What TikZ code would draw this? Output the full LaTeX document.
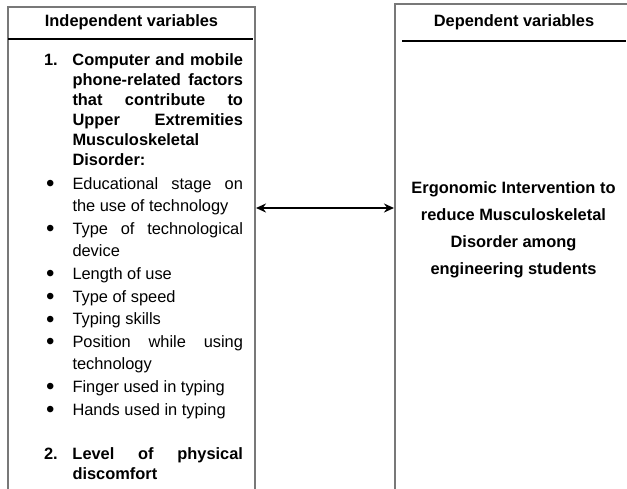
\documentclass[tikz,border=0pt]{standalone}
\usepackage{fontspec}
\setmainfont{Liberation Sans}
\usetikzlibrary{arrows.meta}
\newcommand\jline[2]{\makebox[28.5pt][l]{#1}\makebox[170.5pt][s]{#2}\par}
\newcommand\lline[2]{\makebox[28.5pt][l]{#1}#2\par}
\newcommand\bul{\hspace*{2pt}\raisebox{-2.5pt}{\fontsize{24}{20}\selectfont •}}
\tikzset{
  frame/.style={draw={rgb,255:red,120;green,120;blue,120}, line width=2pt, fill=none},
  rulel/.style={draw=black, line width=1.2pt},
  txt/.style={inner sep=0pt, outer sep=0pt},
  conn/.style={line width=2.1pt, {Stealth[length=10pt,width=9pt]}-{Stealth[length=10pt,width=9pt]}}
}
\begin{document}
\begin{tikzpicture}[x=1pt,y=1pt]
\useasboundingbox (0,0) rectangle (627,-488);
% boxes (open below the picture edge)
\draw[frame] (8,-500) -- (8,-7) -- (255,-7) -- (255,-500);
\draw[frame] (395,-500) -- (395,-4) -- (640,-4) -- (640,-500);
\coordinate (lbr) at (256,-208);
\coordinate (rbl) at (394,-208);
% header rules
\coordinate (l1) at (8,-39);  \coordinate (l2) at (253,-39);
\coordinate (r1) at (402,-41); \coordinate (r2) at (626,-41);
\draw[rulel] (l1) -- (l2);
\draw[rulel] (r1) -- (r2);
% headers
\node[txt, anchor=base] (hl) at (131.5,-26) {\fontsize{16.4}{20}\selectfont\bfseries Independent variables};
\node[txt, anchor=base] (hr) at (514,-26) {\fontsize{16.4}{20}\selectfont\bfseries Dependent variables};
% left content
\node[txt, anchor=base west] (item1) at (44,-65.5) {\begin{minipage}[t]{200pt}\fontsize{16.4}{20}\selectfont\bfseries
\jline{1.}{Computer and mobile}
\jline{}{phone-related factors}
\jline{}{that contribute to}
\jline{}{Upper Extremities}
\lline{}{Musculoskeletal}
\lline{}{Disorder:}
\end{minipage}};
\node[txt, anchor=base west] (bullets) at (44,-189) {\begin{minipage}[t]{200pt}\fontsize{16.4}{22.6}\selectfont
\jline{\bul}{Educational stage on}
\lline{}{the use of technology}
\jline{\bul}{Type of technological}
\lline{}{device}
\lline{\bul}{Length of use}
\lline{\bul}{Type of speed}
\lline{\bul}{Typing skills}
\jline{\bul}{Position while using}
\lline{}{technology}
\lline{\bul}{Finger used in typing}
\lline{\bul}{Hands used in typing}
\end{minipage}};
\node[txt, anchor=base west] (item2) at (44,-459) {\begin{minipage}[t]{200pt}\fontsize{16.4}{20}\selectfont\bfseries
\jline{2.}{Level of physical}
\lline{}{discomfort}
\end{minipage}};
% right content
\node[txt, anchor=base] (dep) at (513.5,-193) {\begin{minipage}[t]{230pt}\centering\fontsize{16.4}{27}\selectfont\bfseries
Ergonomic Intervention to\par
reduce Musculoskeletal\par
Disorder among\par
engineering students\par
\end{minipage}};
% connector
\draw[conn] (lbr) -- (rbl);
\end{tikzpicture}
\end{document}
